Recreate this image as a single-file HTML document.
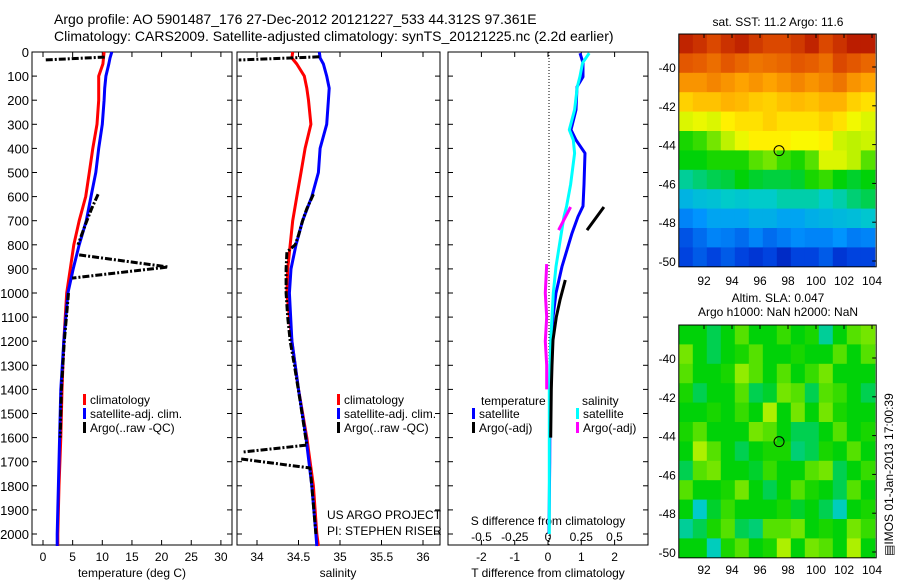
<!DOCTYPE html>
<html><head><meta charset="utf-8"><style>
body{margin:0;background:#fff;}
svg{display:block;font-family:"Liberation Sans",sans-serif;}
</style></head><body>
<svg id="fig" width="900" height="580" viewBox="0 0 900 580">
<text x="54" y="24" font-size="14">Argo profile: AO 5901487_176 27-Dec-2012 20121227_533 44.312S 97.361E</text>
<text x="54" y="41" font-size="14">Climatology: CARS2009. Satellite-adjusted climatology: synTS_20121225.nc (2.2d earlier)</text>
<g id="g"></g>
</svg>
<script>
// ---- data ----
const pres = [0,25,50,100,150,200,300,400,500,600,700,800,900,1000,1200,1400,1600,1800,2000,2050];
const tempClim = [10.3,10.2,10.1,9.4,9.4,9.4,9.1,8.4,7.8,7.2,6.1,5.2,4.6,4.0,3.5,3.2,3.0,2.7,2.5,2.5];
const tempSat  = [11.6,11.3,11.1,10.6,10.4,10.3,10.0,9.4,8.9,8.1,7.3,6.1,5.1,4.2,3.5,3.0,2.8,2.6,2.4,2.4];
const argoTempP = [21,33,null,590,650,700,760,800,null,842,892,938,null,1000,1200,1400,1600];
const argoTempV = [10.4,0.2,null,9.3,8.2,7.4,6.5,5.9,null,6.1,21.1,4.9,null,4.3,3.6,3.1,2.9];
const salClim = [34.43,34.42,34.48,34.57,34.6,34.62,34.65,34.58,34.53,34.48,34.43,34.40,34.37,34.36,34.42,34.5,34.6,34.68,34.72,34.74];
const salSat  = [34.75,34.76,34.8,34.84,34.87,34.86,34.84,34.76,34.74,34.66,34.55,34.47,34.41,34.39,34.42,34.5,34.59,34.66,34.71,34.72];
const argoSalP = [20,33,null,590,650,700,760,800,830,900,1000,1100,1200,1300,1450,1631,1660,null,1689,1726,1800,2000];
const argoSalV = [34.75,33.78,null,34.68,34.6,34.55,34.5,34.46,34.36,34.35,34.35,34.37,34.40,34.45,34.52,34.6,33.82,null,33.81,34.64,34.66,34.71];
const dPres = [5,45,103,145,240,323,365,420,550,640,683,752,890,1000,1100,1200,1400,1700,2000];
const dTempSat = [0.96,1.05,1.05,0.87,0.84,0.69,0.84,1.11,1.08,1.05,0.9,0.72,0.42,0.24,0.15,0.09,0.06,0.05,0.03];
const dSalSat  = [0.31,0.26,0.24,0.22,0.2,0.16,0.19,0.2,0.17,0.14,0.12,0.1,0.06,0.04,0.03,0.02,0.01,0.01,0.01];
const dTempArgoP = [643,739,null,946,1029,1100,1195,1300,1400,1600];
const dTempArgoV = [1.68,1.17,null,0.52,0.36,0.25,0.15,0.12,0.1,0.08];
const dSalArgoP = [643,739,null,880,1000,1100,1200,1300,1400];
const dSalArgoV = [0.17,0.08,null,-0.01,-0.02,-0.01,-0.02,-0.01,-0.01];
const presTicks = [0,100,200,300,400,500,600,700,800,900,1000,1100,1200,1300,1400,1500,1600,1700,1800,1900,2000];
const tempTicks = [0,5,10,15,20,25,30];
const salTicks = [34,34.5,35,35.5,36];
const dTTicks = [-2,-1,0,1,2];
const dSTicks = [-0.5,-0.25,0,0.25,0.5];
const sstVals = [
[.95,.93,.9,.93,.95,.92,.9,.9,.92,.95,.9,.93,.96,.96],
[.88,.87,.85,.88,.86,.84,.85,.86,.88,.87,.85,.9,.88,.86],
[.8,.8,.82,.8,.78,.8,.78,.8,.82,.8,.82,.84,.8,.78],
[.72,.74,.74,.76,.75,.73,.72,.74,.75,.74,.76,.76,.72,.7],
[.62,.64,.62,.68,.7,.7,.72,.7,.7,.7,.72,.7,.65,.62],
[.46,.48,.52,.58,.64,.68,.68,.68,.66,.66,.68,.6,.58,.6],
[.44,.44,.46,.46,.46,.5,.52,.48,.46,.5,.62,.62,.58,.5],
[.36,.38,.4,.41,.44,.42,.41,.41,.42,.46,.48,.44,.42,.44],
[.28,.3,.31,.33,.32,.33,.33,.35,.35,.35,.33,.35,.38,.4],
[.2,.22,.25,.25,.25,.27,.27,.25,.25,.27,.28,.29,.3,.32],
[.14,.17,.2,.19,.17,.2,.17,.19,.21,.2,.2,.22,.19,.2],
[.12,.15,.12,.15,.12,.1,.12,.08,.12,.12,.15,.1,.12,.12]];
const slaVals = [
[.44,.44,.40,.44,.50,.44,.44,.48,.44,.46,.36,.44,.50,.52],
[.52,.44,.40,.44,.46,.50,.44,.44,.46,.44,.44,.50,.44,.50],
[.50,.44,.44,.46,.54,.50,.44,.50,.44,.48,.52,.44,.44,.44],
[.46,.40,.44,.44,.50,.40,.42,.52,.50,.40,.50,.48,.44,.40],
[.44,.44,.46,.44,.48,.44,.56,.44,.52,.44,.52,.46,.44,.44],
[.46,.50,.44,.44,.44,.52,.50,.44,.40,.40,.44,.50,.44,.46],
[.44,.56,.50,.44,.40,.44,.46,.46,.38,.40,.46,.44,.50,.44],
[.40,.50,.52,.44,.44,.42,.48,.44,.44,.50,.52,.40,.44,.48],
[.50,.44,.44,.46,.52,.44,.40,.44,.50,.46,.44,.40,.50,.44],
[.44,.33,.42,.48,.44,.44,.44,.46,.42,.44,.40,.34,.44,.46],
[.36,.40,.46,.50,.40,.38,.50,.50,.52,.44,.46,.44,.52,.48],
[.44,.44,.34,.46,.50,.44,.46,.56,.44,.52,.50,.44,.56,.44]];
const lonTicks = [92,94,96,98,100,102,104];
const latTicks = [-40,-42,-44,-46,-48,-50];
const argoLon = 97.361, argoLat = -44.312;

// ---- helpers ----
const NS="http://www.w3.org/2000/svg";
const G=document.getElementById('g');
function mk(tag,at,name,parent){const e=document.createElementNS(NS,tag);for(const k in at)e.setAttribute(k,at[k]);


(parent||G).appendChild(e);return e;}
function txt(x,y,s,name,anchor,size){const t=mk('text',{x:x,y:y,'font-size':size||12,'text-anchor':anchor||'start'},name);t.textContent=s;return t;}
const yP=p=>52+p*0.241;
function pathOf(P,V,fx){let d='',pen=false;for(let i=0;i<P.length;i++){if(P[i]===null||V[i]===null){pen=false;continue;}
d+=(pen?'L':'M')+fx(V[i]).toFixed(1)+','+yP(P[i]).toFixed(1);pen=true;}return d;}
function line(P,V,fx,col,name,dash,w){const a={d:pathOf(P,V,fx),fill:'none',stroke:col,'stroke-width':w||3,'stroke-linejoin':'round'};if(dash)a['stroke-dasharray']=dash;mk('path',a,name);}

function frame(x0,x1,name,ylabels){
 mk('rect',{x:x0,y:52,width:x1-x0,height:493,fill:'none',stroke:'#000','stroke-width':1},name+'-frame');
 presTicks.forEach(p=>{const y=yP(p);
  mk('line',{x1:x0,x2:x0+5,y1:y,y2:y,stroke:'#000'},name+'-ytick');
  mk('line',{x1:x1-5,x2:x1,y1:y,y2:y,stroke:'#000'},name+'-ytick');
  if(ylabels) txt(x0-3,y+5,String(p),'y-tick-label','end',13);});
}
const xT=t=>43+t*5.93, xS=s=>257+(s-34)*83, xD=d=>548+d*33.3, xDS=s=>548+s*133;
frame(32,232,'temp-panel',true);
frame(237,440,'sal-panel',false);
frame(448,648,'diff-panel',false);
function xticks(vals,f,y,name){vals.forEach(v=>{const x=f(v);
 mk('line',{x1:x,x2:x,y1:52,y2:57,stroke:'#000'},name+'-tick');
 mk('line',{x1:x,x2:x,y1:540,y2:545,stroke:'#000'},name+'-tick');
 txt(x,y,String(v),name+'-label','middle',12);});}
xticks(tempTicks,xT,561,'temp-x');
xticks(salTicks,xS,561,'sal-x');
xticks(dTTicks,xD,561,'dT-x');
dSTicks.forEach(v=>txt(xDS(v),541,String(v),'dS-x-label','middle',12));
txt(132,577,'temperature (deg C)','temp-x-title','middle',12);
txt(338,577,'salinity','sal-x-title','middle',12);
txt(548,577,'T difference from climatology','dT-x-title','middle',12);
txt(548,525,'S difference from climatology','dS-x-title','middle',12);
mk('line',{x1:549,x2:549,y1:52,y2:545,stroke:'#000','stroke-dasharray':'1,2'},'zero-line');

line(pres,tempClim,xT,'#f00','temp-climatology-line');
line(pres,tempSat,xT,'#00f','temp-satellite-line');
line(argoTempP,argoTempV,xT,'#000','temp-argo-line','7,2,2,2');
line(pres,salClim,xS,'#f00','sal-climatology-line');
line(pres,salSat,xS,'#00f','sal-satellite-line');
line(argoSalP,argoSalV,xS,'#000','sal-argo-line','7,2,2,2');
line(dPres,dTempSat,xD,'#00f','dT-satellite-line');
line(dPres,dSalSat,xDS,'#0ff','dS-satellite-line');
line(dTempArgoP,dTempArgoV,xD,'#000','dT-argo-line');
line(dSalArgoP,dSalArgoV,xDS,'#f0f','dS-argo-line');

function leg(x,y,col,s,name){mk('rect',{x:x,y:y-10,width:3,height:11,fill:col},name+'-swatch');txt(x+7,y,s,name,'start',12);}
leg(83,404,'#f00','climatology','legend-temp-climatology');
leg(83,418,'#00f','satellite-adj. clim.','legend-temp-satellite');
leg(83,432,'#000','Argo(..raw -QC)','legend-temp-argo');
leg(337,404,'#f00','climatology','legend-sal-climatology');
leg(337,418,'#00f','satellite-adj. clim.','legend-sal-satellite');
leg(337,432,'#000','Argo(..raw -QC)','legend-sal-argo');
txt(481,405,'temperature','legend-diff-temperature-title','start',12);
txt(582,405,'salinity','legend-diff-salinity-title','start',12);
leg(472,418,'#00f','satellite','legend-dT-satellite');
leg(472,432,'#000','Argo(-adj)','legend-dT-argo');
leg(576,418,'#0ff','satellite','legend-dS-satellite');
leg(576,432,'#f0f','Argo(-adj)','legend-dS-argo');
txt(327,519,'US ARGO PROJECT','project-label','start',12);
txt(327,535,'PI: STEPHEN RISER','pi-label','start',12);

const stops=[[0,0,140],[0,60,220],[0,150,255],[0,205,200],[0,210,0],[170,240,0],[255,250,0],[255,165,0],[225,80,0],[165,0,0]];
function col(v){v=Math.max(0,Math.min(1,v))*9;const i=Math.min(8,Math.floor(v)),f=v-i;const a=stops[i],b=stops[i+1];
return 'rgb('+a.map((c,k)=>Math.round(c+(b[k]-c)*f)).join(',')+')';}
function map(vals,lat40y,name,xlabY){
 const lx=lon=>704+(lon-92)*14, ly=lat=>lat40y+(-40-lat)*19.4;
 const top=ly(-38.3);
 vals.forEach((row,r)=>row.forEach((v,c)=>{
  mk('rect',{x:lx(90.2+c).toFixed(1),y:ly(-38.3-r).toFixed(1),width:14.6,height:20,fill:col(v)},name+'-cell');}));
 const bx=lx(90.2), by=top, bw=lx(104.3)-bx, bh=ly(-50.3)-top;
 mk('rect',{x:bx+bw,y:by-2,width:10,height:bh+6,fill:'#fff'},name+'-mask');
 mk('rect',{x:bx,y:by+bh,width:bw+2,height:8,fill:'#fff'},name+'-mask');
 mk('rect',{x:bx,y:by,width:bw,height:bh,fill:'none',stroke:'#000'},name+'-frame');
 lonTicks.forEach(l=>{mk('line',{x1:lx(l),x2:lx(l),y1:by,y2:by+4,stroke:'#000'},name+'-xtick');txt(lx(l),xlabY,String(l),name+'-x-label','middle',12);});
 latTicks.forEach(l=>{mk('line',{x1:bx+bw-4,x2:bx+bw,y1:ly(l),y2:ly(l),stroke:'#000'},name+'-ytick');txt(bx-3,ly(l)+5,String(l),name+'-y-label','end',12);});
 mk('circle',{cx:lx(argoLon),cy:ly(argoLat),r:5,fill:'none',stroke:'#000','stroke-width':1},name+'-argo-location');
}
map(sstVals,67,'sst-map',285);
map(slaVals,358,'sla-map',574);
txt(778,26,'sat. SST: 11.2  Argo: 11.6','sst-map-title','middle',12);
txt(778,302,'Altim. SLA: 0.047','sla-map-title','middle',12);
txt(778,316,'Argo h1000: NaN h2000: NaN','sla-map-subtitle','middle',12);
const r=txt(0,0,'\u25A4IMOS 01-Jan-2013 17:00:39','imos-timestamp','start',12);
r.setAttribute('transform','translate(893,556) rotate(-90)');
</script>
</body></html>
